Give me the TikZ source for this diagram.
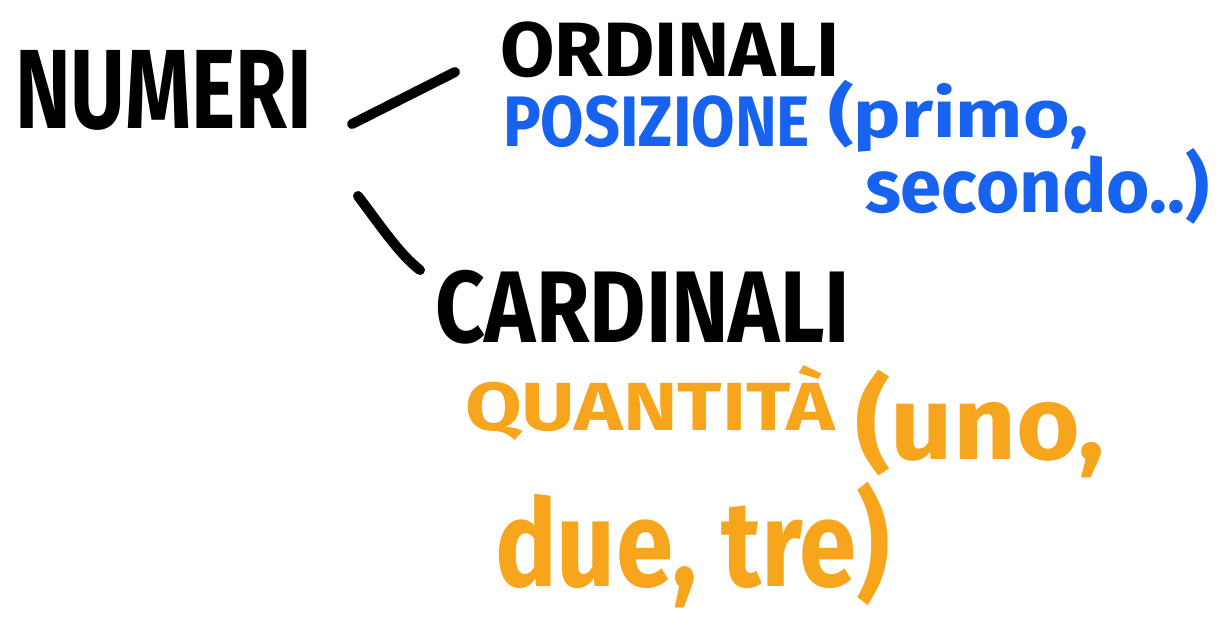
\documentclass[tikz,border=0pt]{standalone}
\usepackage{fontspec}
\usepackage{graphicx}
\setmainfont{Fira Sans}
\definecolor{hwblue}{HTML}{1762EE}
\definecolor{hworange}{HTML}{F6A51C}
\newcommand{\hwtext}[3]{\resizebox*{#1}{#2}{\bfseries #3}}
\begin{document}
\begin{tikzpicture}[x=0.5pt,y=-0.5pt,
  word/.style={anchor=north west,inner sep=0pt,outer sep=0pt},
  stroke/.style={line width=5pt,line cap=round}]
\useasboundingbox (0,0) rectangle (1228,623);
\node[word] (numeri) at (15,50) {\hwtext{148.5pt}{40pt}{NUMERI}};
\node[word] (ordinali) at (500,22) {\hwtext{170pt}{28pt}{ORDINALI}};
\node[word,text=hwblue] (posizione) at (503,96) {\hwtext{153.5pt}{26pt}{POSIZIONE}};
\node[word,text=hwblue] (primo) at (828,80) {\hwtext{130pt}{36pt}{(primo,}};
\node[word,text=hwblue] (secondo) at (865,148) {\hwtext{172pt}{38pt}{secondo..)}};
\node[word] (cardinali) at (435,270) {\hwtext{207.5pt}{37pt}{CARDINALI}};
\node[word,text=hworange] (quantita) at (465,365) {\hwtext{185pt}{37.5pt}{QUANTITÀ}};
\node[word,text=hworange] (uno) at (855,370) {\hwtext{125pt}{54pt}{(uno,}};
\node[word,text=hworange] (duetre) at (495,482) {\hwtext{197.5pt}{63pt}{due, tre)}};
\coordinate (a1) at (352,124);
\coordinate (a2) at (455,72);
\coordinate (b1) at (358,196);
\coordinate (b2) at (420,270);
\draw[stroke] (a1) -- (a2);
\draw[stroke] (b1) .. controls (380,225) and (400,255) .. (b2);
\end{tikzpicture}
\end{document}
